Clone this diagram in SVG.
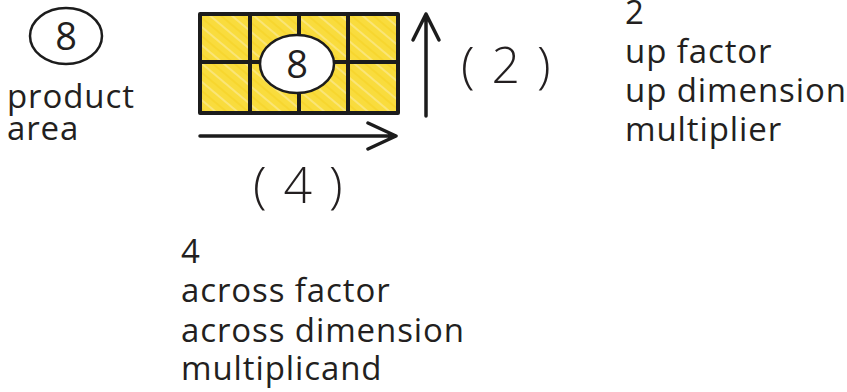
<svg xmlns="http://www.w3.org/2000/svg" width="847" height="392" viewBox="0 0 847 392">
<style>
.t{font-family:"Open Sans","Liberation Sans",sans-serif;fill:#231f20;font-size:33px;letter-spacing:0.9px;}
.big{font-size:50px;font-weight:300;letter-spacing:2px;}
.num{font-size:38px;letter-spacing:0;}
.ln{stroke:#1c1c1c;stroke-width:4;fill:none;stroke-linecap:round;stroke-linejoin:round;}
.arr{stroke:#1c1c1c;stroke-width:3.5;fill:none;stroke-linecap:round;stroke-linejoin:round;}
.ov{fill:#fff;stroke:#1c1c1c;stroke-width:2.5;}
</style>
<defs>
<pattern id="hatch" width="14" height="14" patternUnits="userSpaceOnUse" patternTransform="rotate(40)">
<rect width="14" height="14" fill="#f9dc3d"/>
<line x1="0" y1="3" x2="14" y2="3" stroke="#fbe98a" stroke-width="1.5"/>
<line x1="0" y1="10" x2="14" y2="10" stroke="#f7d52a" stroke-width="1.5"/>
</pattern>
</defs>
<g id="product-node">
<ellipse class="ov" cx="66" cy="36" rx="36" ry="28"/>
<text class="t num" x="66" y="50" text-anchor="middle">8</text>
<text class="t" x="7" y="108">product</text>
<text class="t" x="7" y="140">area</text>
</g>
<g id="grid-node">
<rect x="200" y="14" width="198" height="99" fill="url(#hatch)"/>
<rect class="ln" x="200" y="14" width="198" height="99"/>
<line class="ln" x1="250" y1="14" x2="250" y2="113"/>
<line class="ln" x1="299" y1="14" x2="299" y2="113"/>
<line class="ln" x1="348" y1="14" x2="348" y2="113"/>
<line class="ln" x1="200" y1="62" x2="398" y2="62"/>
<ellipse class="ov" cx="297" cy="64" rx="37" ry="29"/>
<text class="t num" x="297" y="78" text-anchor="middle">8</text>
</g>
<g id="connectors">
<path class="arr" d="M426 116 V14 M413 40 L426 14 L439 40"/>
<path class="arr" d="M200 136 H396 M368 123 L396 136 L368 149"/>
</g>
<g id="up-label">
<text class="t big" x="461" y="83">( 2 )</text>
</g>
<g id="across-label">
<text class="t big" x="253" y="203">( 4 )</text>
</g>
<g id="up-text">
<text class="t" x="625" y="24">2</text>
<text class="t" x="625" y="63">up factor</text>
<text class="t" x="625" y="102">up dimension</text>
<text class="t" x="625" y="141">multiplier</text>
</g>
<g id="across-text">
<text class="t" x="181" y="263">4</text>
<text class="t" x="181" y="302">across factor</text>
<text class="t" x="181" y="342">across dimension</text>
<text class="t" x="181" y="380">multiplicand</text>
</g>
</svg>
